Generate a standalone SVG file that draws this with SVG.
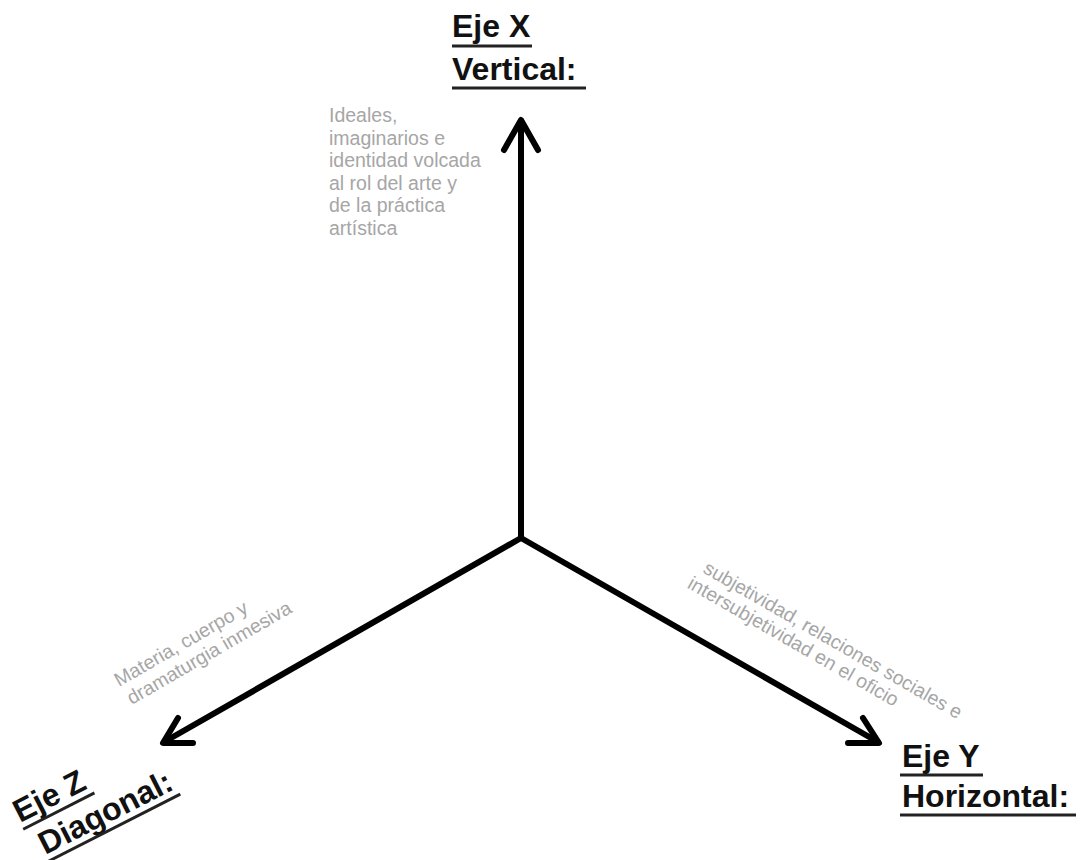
<svg xmlns="http://www.w3.org/2000/svg" width="1086" height="860" viewBox="0 0 1086 860">
<style>
.axis{fill:none;stroke:#000;stroke-width:6;stroke-linecap:round;stroke-linejoin:round}
.lbl{font-family:"Liberation Sans",Arial,sans-serif;font-weight:bold;font-size:32px;fill:#111}
.ul{stroke:#222;stroke-width:3}
.desc{font-family:"Liberation Sans",Arial,sans-serif;font-size:19.5px;fill:#a6a6a6}
</style>
<rect width="1086" height="860" fill="#fff"/>
<g id="connectors">
<line class="axis" x1="521" y1="538" x2="521" y2="121"/>
<polyline class="axis" points="504,150 521,120 538,150"/>
<line class="axis" x1="521" y1="538" x2="164" y2="742"/>
<polyline class="axis" points="178,718 163,743 193,743"/>
<line class="axis" x1="521" y1="538" x2="878" y2="742"/>
<polyline class="axis" points="863,718 879,743 848,743"/>
</g>
<g id="node-x">
<text class="lbl" x="452" y="37">Eje X</text>
<line class="ul" x1="452" y1="46" x2="532" y2="46"/>
<text class="lbl" x="452" y="80">Vertical:</text>
<line class="ul" x1="452" y1="88" x2="586" y2="88"/>
</g>
<g id="desc-x" class="desc">
<text x="329" y="122">Ideales,</text>
<text x="329" y="145">imaginarios e</text>
<text x="329" y="167">identidad volcada</text>
<text x="329" y="190">al rol del arte y</text>
<text x="329" y="212">de la práctica</text>
<text x="329" y="235">artística</text>
</g>
<g id="node-y">
<text class="lbl" x="902" y="767">Eje Y</text>
<line class="ul" x1="900" y1="775" x2="983" y2="775"/>
<text class="lbl" x="902" y="807">Horizontal:</text>
<line class="ul" x1="900" y1="815" x2="1076" y2="815"/>
</g>
<g id="desc-y" class="desc" transform="translate(702,572) rotate(30)">
<text x="0" y="0">subjetividad, relaciones sociales e</text>
<text x="-6" y="21">intersubjetividad en el oficio</text>
</g>
<g id="node-z" transform="translate(20,823) rotate(-27)">
<text class="lbl" x="0" y="0">Eje Z</text>
<line class="ul" x1="0" y1="7" x2="80" y2="7"/>
<text class="lbl" x="8" y="40">Diagonal:</text>
<line class="ul" x1="8" y1="47" x2="156" y2="47"/>
</g>
<g id="desc-z" class="desc" transform="translate(119,687) rotate(-30)">
<text x="0" y="0">Materia, cuerpo y</text>
<text x="2" y="22">dramaturgia inmesiva</text>
</g>
</svg>
